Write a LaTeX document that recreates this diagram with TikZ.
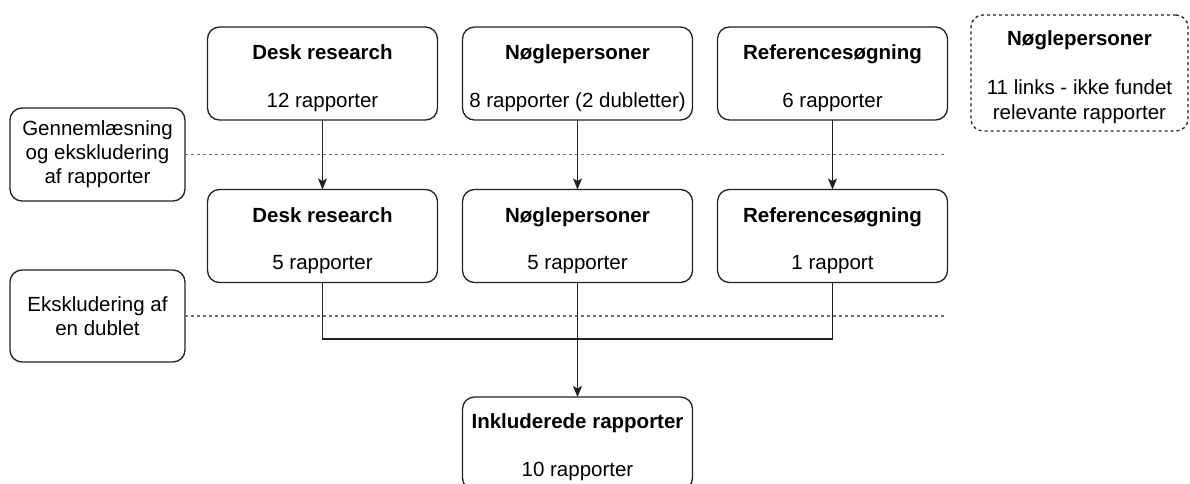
\documentclass[tikz,border=0pt]{standalone}
\usepackage{fontspec}
\setmainfont{Liberation Sans}
\usetikzlibrary{arrows.meta}
\definecolor{ln}{HTML}{222222}
\definecolor{sepc}{HTML}{707070}
\tikzset{
  every node/.style={font=\fontsize{20.5}{24}\selectfont, text=black, inner sep=0pt, outer sep=0pt},
  box/.style={draw=ln, line width=1.3pt, rounded corners=12pt, minimum width=#1, minimum height=93pt},
  box/.default=230pt,
  sidebox/.style={draw=ln, line width=1.3pt, rounded corners=12pt, minimum width=175pt, align=center},
  notebox/.style={draw=ln, line width=1.3pt, rounded corners=12pt, dash pattern=on 3pt off 3pt, minimum width=217pt, minimum height=116pt},
  ttl/.style={anchor=base, font=\fontsize{20.5}{24}\selectfont\bfseries},
  val/.style={anchor=base},
  sep/.style={draw=sepc, line width=1.3pt, dash pattern=on 3pt off 3pt},
  conn/.style={draw=ln, line width=1.3pt},
  arr/.style={conn, -{Stealth[length=11pt, width=9pt, inset=2.5pt]}}
}
\begin{document}
\begin{tikzpicture}[x=1pt, y=-1pt]
\useasboundingbox (0,0) rectangle (1190,484);
\clip (0,0) rectangle (1190,484);

% side boxes
\node[sidebox, minimum height=93pt] (left1) at (97.5,154.5) {Gennemlæsning\\og ekskludering\\af rapporter};
\node[sidebox, minimum height=92pt] (left2) at (97.5,316) {Ekskludering af\\en dublet};

% separator lines
\coordinate (e1) at (944,154.5);
\coordinate (e2) at (944,316);
\draw[sep] (left1.east) -- (e1);
\draw[sep] (left2.east) -- (e2);

% top row
\node[box] (top1) at (322.5,73.5) {};
\node[ttl] (top1t) at (322.5,59.5) {Desk research};
\node[val] (top1v) at (322.5,107) {12 rapporter};
\node[box] (top2) at (577.5,73.5) {};
\node[ttl] (top2t) at (577.5,59.5) {Nøglepersoner};
\node[val] (top2v) at (577.5,107) {8 rapporter (2 dubletter)};
\node[box] (top3) at (832.5,73.5) {};
\node[ttl] (top3t) at (832.5,59.5) {Referencesøgning};
\node[val] (top3v) at (832.5,107) {6 rapporter};

% note
\node[notebox] (note) at (1079.5,73) {};
\node[ttl] (notet) at (1079.5,45.5) {Nøglepersoner};
\node[val] (note1) at (1079.5,95) {11 links - ikke fundet};
\node[val] (note2) at (1079.5,119) {relevante rapporter};

% middle row
\node[box] (mid1) at (322.5,236) {};
\node[ttl] (mid1t) at (322.5,222) {Desk research};
\node[val] (mid1v) at (322.5,269.5) {5 rapporter};
\node[box] (mid2) at (577.5,236) {};
\node[ttl] (mid2t) at (577.5,222) {Nøglepersoner};
\node[val] (mid2v) at (577.5,269.5) {5 rapporter};
\node[box] (mid3) at (832.5,236) {};
\node[ttl] (mid3t) at (832.5,222) {Referencesøgning};
\node[val] (mid3v) at (832.5,269.5) {1 rapport};

% result
\node[box] (res) at (577.5,443.5) {};
\node[ttl] (rest) at (577.5,428.5) {Inkluderede rapporter};
\node[val] (resv) at (577.5,476) {10 rapporter};

% connectors
\draw[arr] (top1.south) -- (mid1.north);
\draw[arr] (top2.south) -- (mid2.north);
\draw[arr] (top3.south) -- (mid3.north);
\coordinate (j) at (577.5,339);
\draw[conn] (mid1.south) |- (j) -| (mid3.south);
\draw[arr] (mid2.south) -- (res.north);
\end{tikzpicture}
\end{document}
